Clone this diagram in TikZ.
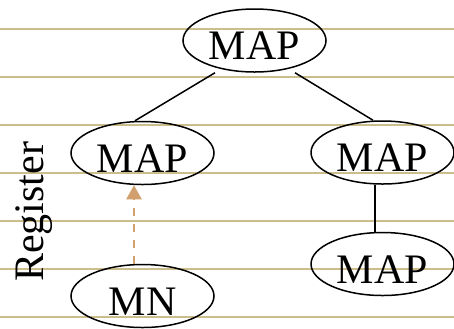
\documentclass[tikz,border=0pt]{standalone}
\usepackage{fontspec}
\setmainfont{Liberation Serif}
\usetikzlibrary{shapes.geometric,arrows.meta,calc}
\definecolor{ruleline}{HTML}{CCBD8A}
\definecolor{regarrow}{HTML}{D2A06E}
\begin{document}
\begin{tikzpicture}[x=1bp,y=-1bp,
  mapnode/.style={ellipse,draw=black,line width=1.5bp,minimum width=143bp,
    minimum height=63bp,inner sep=0pt,text height=38bp,text depth=0pt,
    font=\fontsize{42bp}{42bp}\selectfont},
  link/.style={draw=black,line width=1.5bp},
  regflow/.style={draw=regarrow,line width=2.5bp,dash pattern=on 8bp off 8bp,
    -{Triangle[length=14bp,width=15bp]}},
  ruling/.style={draw=ruleline,line width=2bp}]
\useasboundingbox (0,0) rectangle (454,328);
% ruled background
\foreach \yy in {29,77,125,173,221,269,317}
  \draw[ruling] (0,\yy) -- (454,\yy);
% tree nodes
\node[mapnode] (root) at (254.5,40.5) {MAP};
\node[mapnode] (left) at (142.5,153) {MAP};
\node[mapnode] (right) at (382.5,152.5) {MAP};
\node[mapnode] (rlow) at (382.5,264) {MAP};
\node[mapnode] (mn) at (142.5,296) {MN};
% side label
\node[rotate=90,anchor=base west,inner sep=0pt,
  font=\fontsize{42bp}{42bp}\selectfont] (reg) at (43,282) {Register};
% tree edges
\draw[link] ($(root.south)+(-39.5,0)$) -- ($(left.north)+(-7.5,0)$);
\draw[link] ($(root.south)+(40.5,0)$) -- ($(right.north)+(-9.5,0)$);
\draw[link] ($(right.south)+(-7.5,0)$) -- ($(rlow.north)+(-7.5,0)$);
% register link
\draw[regflow] ($(mn.north)+(-8.5,0)$) -- ($(left.south)+(-8.5,0)$);
\end{tikzpicture}
\end{document}
